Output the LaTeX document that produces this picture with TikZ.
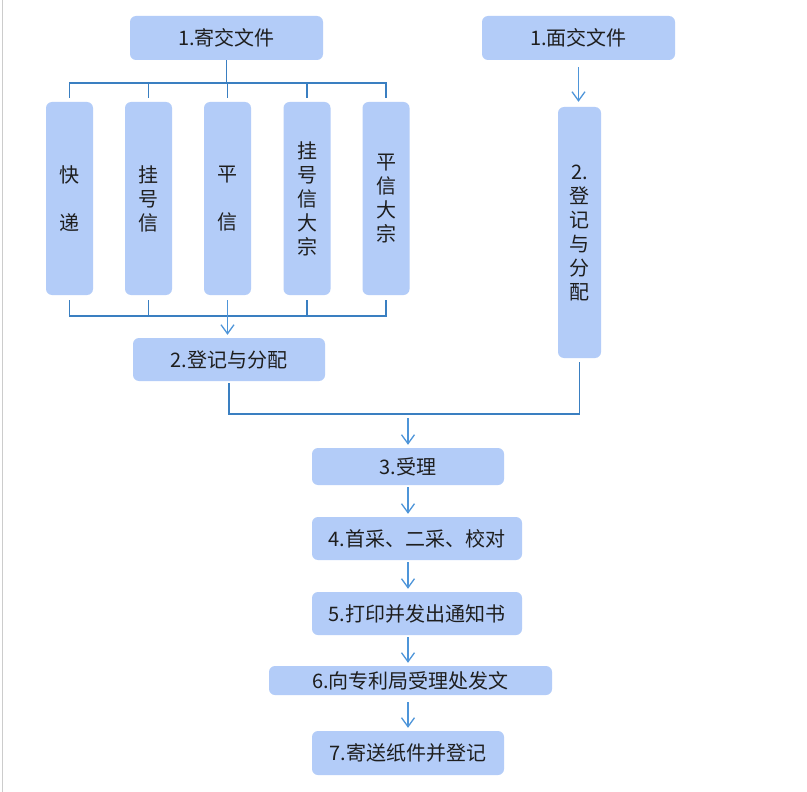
\documentclass[tikz,border=0pt]{standalone}
\usepackage{fontspec}
\newfontfamily\cjk{Noto Sans CJK SC}
\usetikzlibrary{arrows.meta}
\definecolor{boxfill}{HTML}{B3CCF8}
\definecolor{lineblue}{HTML}{3A7FC1}
\definecolor{arrowblue}{HTML}{4E95D9}
\definecolor{txt}{HTML}{1E1E1E}
\tikzset{
  box/.style={fill=boxfill, draw=none, rounded corners=6pt, inner sep=0pt,
    text=txt, font=\cjk\fontsize{20}{24}\selectfont, align=center},
  ln/.style={draw=lineblue, line width=1.3pt},
  arr/.style={draw=arrowblue, line width=1.3pt, -{Straight Barb[length=9pt,width=13pt,line width=1.3pt]},
    shorten <=2pt, shorten >=3pt},
}
\begin{document}
\begin{tikzpicture}[x=1pt,y=-1pt]
\useasboundingbox[fill=white] (0,0) rectangle (807,792);
\draw[draw=gray!40, line width=1pt] (2,0) -- (2,792);

\node[box, minimum width=193pt, minimum height=44pt] (a1) at (226.5,38) {1.寄交文件};
\node[box, minimum width=193pt, minimum height=44pt] (b1) at (578.5,38) {1.面交文件};

\node[box, minimum width=47pt, minimum height=193pt] (c1) at (69.5,198.5) {快\\[24pt]递};
\node[box, minimum width=47pt, minimum height=193pt] (c2) at (148.5,198.5) {挂\\号\\信};
\node[box, minimum width=47pt, minimum height=193pt] (c3) at (227.5,198.5) {平\\[24pt]信};
\node[box, minimum width=47pt, minimum height=193pt] (c4) at (307,198.5) {挂\\号\\信\\大\\宗};
\node[box, minimum width=47pt, minimum height=193pt] (c5) at (386,198.5) {平\\信\\大\\宗};

\node[box, minimum width=192pt, minimum height=43pt] (a2) at (229,359.5) {2.登记与分配};
\node[box, minimum width=43pt, minimum height=251pt] (b2) at (579.5,232.5) {2.\\登\\记\\与\\分\\配};

\node[box, minimum width=192pt, minimum height=37pt] (s3) at (408,466.5) {3.受理};
\node[box, minimum width=210pt, minimum height=43pt] (s4) at (417,538.5) {4.首采、二采、校对};
\node[box, minimum width=210pt, minimum height=43pt] (s5) at (417,613.5) {5.打印并发出通知书};
\node[box, minimum width=283pt, minimum height=29pt] (s6) at (410.5,680.5) {6.向专利局受理处发文};
\node[box, minimum width=192pt, minimum height=44pt] (s7) at (408,753) {7.寄送纸件并登记};

\coordinate (tb) at (0,83);
\coordinate (bb) at (0,316);
\coordinate (lb) at (0,414);
\coordinate (lb2) at (0,418);

% top bus
\draw[ln] ([yshift=4pt]c1.north) -- (c1.north |- tb) -- (c5.north |- tb) -- ([yshift=4pt]c5.north);
\draw[ln] (a1.south) -- (a1.south |- tb);
\foreach \c in {c2,c3,c4} \draw[ln] ([yshift=4pt]\c.north) -- (\c.north |- tb);

% bottom bus
\draw[ln] ([yshift=-5pt]c1.south) -- (c1.south |- bb) -- (c5.south |- bb) -- ([yshift=-5pt]c5.south);
\foreach \c in {c2,c4} \draw[ln] ([yshift=-5pt]\c.south) -- (\c.south |- bb);
\draw[arr, shorten <=5pt] (c3.south) -- (c3.south |- a2.north);

% right branch
\draw[arr, shorten <=7pt, shorten >=5pt] (b1.south) -- (b1.south |- b2.north);

% merge
\draw[ln] ([yshift=-2pt]a2.south) -- (a2.south |- lb) -- (b2.south |- lb) -- ([yshift=-4pt]b2.south);
\draw[arr, shorten <=0pt] (s3.north |- lb2) -- (s3.north);

% chain
\draw[arr] (s3.south) -- (s3.south |- s4.north);
\draw[arr] (s3.south |- s4.south) -- (s3.south |- s5.north);
\draw[arr] (s3.south |- s5.south) -- (s3.south |- s6.north);
\draw[arr, shorten <=7pt] (s3.south |- s6.south) -- (s3.south |- s7.north);
\end{tikzpicture}
\end{document}
